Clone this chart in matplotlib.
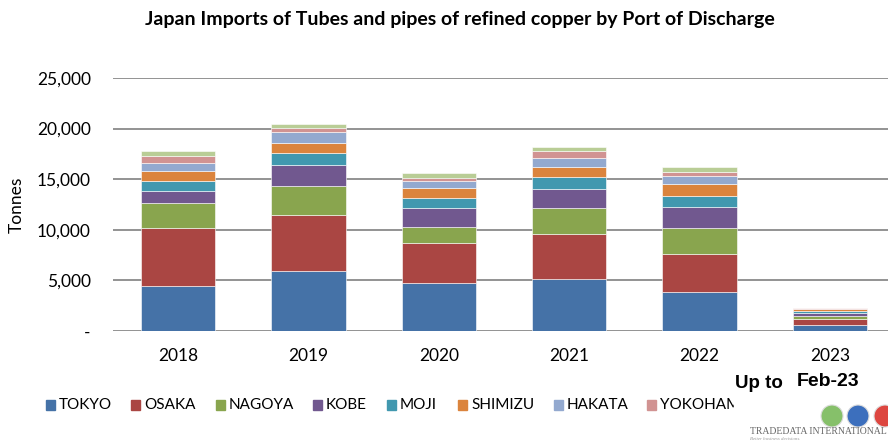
import numpy as np
import matplotlib.pyplot as plt
from matplotlib.patches import Circle, Rectangle

# Data (tonnes)
years = ['2018', '2019', '2020', '2021', '2022', '2023']
ports = ['TOKYO', 'OSAKA', 'NAGOYA', 'KOBE', 'MOJI', 'SHIMIZU', 'HAKATA', 'YOKOHAMA', 'OTHERS']
tokyo = [4400, 5890, 4700, 5110, 3830, 590]
osaka = [5730, 5530, 3970, 4520, 3800, 590]
nagoya = [2550, 2910, 1650, 2570, 2540, 330]
kobe = [1160, 2050, 1850, 1820, 2080, 300]
moji = [1030, 1230, 990, 1190, 1060, 160]
shimizu = [930, 990, 930, 960, 1190, 200]
hakata = [830, 1030, 760, 920, 860, 40]
yokohama = [660, 400, 230, 660, 400, 30]
others = [460, 430, 560, 430, 460, 40]
series = [tokyo, osaka, nagoya, kobe, moji, shimizu, hakata, yokohama, others]
colors = ['#4572A7', '#AA4643', '#89A54E', '#71588F', '#4198AF',
          '#DB843D', '#93A9CF', '#D19392', '#B9CD96']

plt.rcParams['font.family'] = ['Lato', 'DejaVu Sans']

W, H = 888, 441
fig = plt.figure(figsize=(W / 100, H / 100), dpi=100)
# plot area runs a little past the right edge, as in the cropped original
ax = fig.add_axes([113 / W, 110 / H, 782 / W, 253 / H])

x = np.arange(len(years))
bottom = np.zeros(len(years))
for name, vals, c in zip(ports, series, colors):
    ax.bar(x, vals, 0.57, bottom=bottom, color=c, edgecolor='white',
           linewidth=0.4, label=name, zorder=3)
    bottom += np.array(vals)

ax.set_xlim(-0.5, 5.5)
ax.set_ylim(0, 25000)
ax.set_yticks([0, 5000, 10000, 15000, 20000, 25000])
ax.set_yticklabels(['-', '5,000', '10,000', '15,000', '20,000', '25,000'], fontsize=12.5)
ax.set_xticks(x)
ax.set_xticklabels(years, fontsize=12.5)
ax.tick_params(axis='y', length=0, pad=16)
ax.tick_params(axis='x', length=0, pad=12)
ax.grid(axis='y', color='#8a8a8a', linewidth=1.3, zorder=0)
for s in ax.spines.values():
    s.set_visible(False)
ax.set_ylabel('Tonnes', fontsize=12.5)
ax.yaxis.set_label_coords(-0.1125, 0.5)

fig.text(0.518, 1 - 19 / H, 'Japan Imports of Tubes and pipes of refined copper by Port of Discharge',
         ha='center', va='center', fontsize=14, fontweight='bold')

# legend, laid out like the original (it is cut off after YOKOHAMA)
leg_x = [46, 131, 216, 313, 387, 458, 554, 647]
leg_y = 1 - 405 / H
for lx, name, c in zip(leg_x, ports[:8], colors[:8]):
    fig.patches.append(Rectangle((lx / W, leg_y - 5 / H), 9 / W, 10 / H,
                                 transform=fig.transFigure, color=c, zorder=3))
    fig.text((lx + 13) / W, leg_y, name, ha='left', va='center', fontsize=11, zorder=3)
fig.patches.append(Rectangle((734 / W, 1 - 418 / H), 40 / W, 24 / H,
                             transform=fig.transFigure, color='white', zorder=4))

fig.text(735 / W, 1 - 383 / H, 'Up to', ha='left', va='center', fontsize=13.5,
         fontweight='bold', family=['Liberation Sans', 'DejaVu Sans'])
fig.text(797 / W, 1 - 382 / H, 'Feb-23', ha='left', va='center', fontsize=14,
         fontweight='bold', family=['Liberation Sans', 'DejaVu Sans'])

# logo
for cx, col in zip([832, 858, 885], ['#86c06a', '#3c6fbd', '#dd4640']):
    fig.patches.append(Circle((cx / 100, (H - 416) / 100), 0.11,
                              transform=fig.dpi_scale_trans, facecolor=col,
                              edgecolor='#dddddd', linewidth=0.8, zorder=6))
fig.text(750 / W, 1 - 432 / H, 'TRADEDATA INTERNATIONAL', ha='left', va='center',
         fontsize=7, color='#666666', family=['Liberation Serif', 'DejaVu Serif'], zorder=7)
fig.text(750 / W, 1 - 439 / H, 'Better business decisions.', ha='left', va='center',
         fontsize=3.5, color='#999999', style='italic', family=['Liberation Serif', 'DejaVu Serif'])

fig.savefig('out.png', dpi=100)
